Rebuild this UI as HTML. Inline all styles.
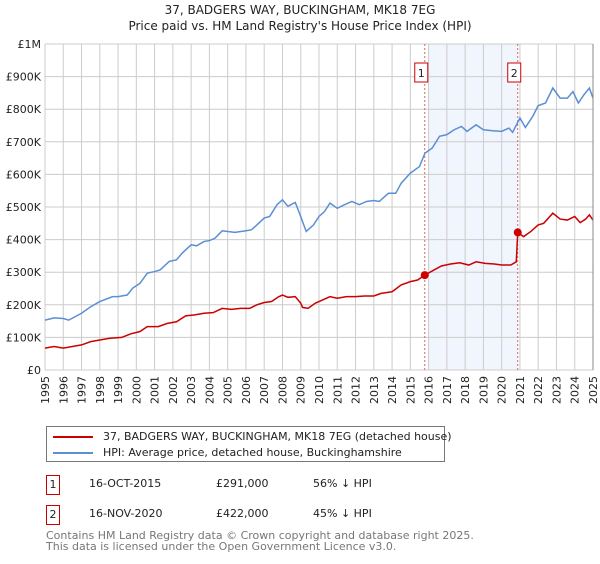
<!DOCTYPE html>
<html><head><meta charset="utf-8"><style>
body{margin:0;background:#fff;font-family:"DejaVu Sans","Liberation Sans",sans-serif;}
</style></head><body>
<svg width="600" height="560" xmlns="http://www.w3.org/2000/svg" style="font-family:'DejaVu Sans','Liberation Sans',sans-serif">
<g id="chart"></g>
</svg>
<script>
const hpiX=[1995.0,1995.5,1996.0,1996.3,1997.0,1997.5,1998.0,1998.7,1999.0,1999.5,1999.8,2000.2,2000.6,2001.0,2001.3,2001.8,2002.2,2002.5,2003.0,2003.3,2003.7,2004.0,2004.3,2004.7,2005.0,2005.4,2006.0,2006.3,2006.6,2007.0,2007.3,2007.7,2008.0,2008.3,2008.7,2009.0,2009.1,2009.3,2009.7,2010.0,2010.3,2010.6,2011.0,2011.4,2011.8,2012.2,2012.6,2013.0,2013.3,2013.8,2014.2,2014.5,2015.0,2015.5,2015.8,2016.2,2016.6,2017.0,2017.4,2017.8,2018.1,2018.6,2019.0,2019.5,2020.0,2020.4,2020.6,2021.0,2021.3,2021.7,2022.0,2022.4,2022.8,2023.2,2023.6,2023.9,2024.2,2024.5,2024.8,2025.0];
const hpiY=[153,160,158,153,174,194,210,225,225,230,251,266,297,302,307,333,338,358,384,381,394,397,404,427,425,422,427,430,445,466,471,507,522,502,514,471,455,425,445,471,486,512,496,507,517,507,517,520,517,542,542,573,604,624,665,681,717,722,737,747,732,752,737,734,732,742,729,773,744,778,811,819,865,834,834,854,819,844,865,834];
const ppX=[1995.0,1995.5,1996.0,1996.5,1997.0,1997.5,1998.0,1998.5,1999.2,1999.7,2000.2,2000.6,2001.2,2001.7,2002.2,2002.7,2003.2,2003.7,2004.2,2004.7,2005.2,2005.7,2006.2,2006.6,2007.0,2007.4,2007.8,2008.0,2008.3,2008.7,2009.0,2009.1,2009.4,2009.8,2010.2,2010.6,2011.0,2011.5,2012.0,2012.5,2013.0,2013.4,2014.0,2014.5,2015.0,2015.4,2015.79,2016.3,2016.7,2017.2,2017.7,2018.2,2018.6,2019.1,2019.6,2020.0,2020.5,2020.8,2020.88,2021.2,2021.6,2022.0,2022.3,2022.8,2023.2,2023.6,2024.0,2024.3,2024.6,2024.8,2025.0];
const ppY=[67,72,67,72,77,87,92,97,100,111,118,133,133,143,148,166,169,174,176,189,186,189,189,200,207,210,225,230,223,225,205,192,189,205,215,225,220,225,225,227,227,235,240,261,271,276,291,307,319,325,329,322,332,327,325,322,322,332,422,409,425,445,450,481,463,460,471,452,463,476,460];
const saleX=[2015.79,2020.88];
const saleY=[291,422];
const saleLabels=["1","2"];
const yTicks=[0,100,200,300,400,500,600,700,800,900,1000];
const yTickLabels=["£0","£100K","£200K","£300K","£400K","£500K","£600K","£700K","£800K","£900K","£1M"];
const years=[];for(let y=1995;y<=2025;y++)years.push(y);

const L=45,R=593,T=44,B=370;
const sx=v=>L+(v-1995)/30*(R-L);
const sy=v=>B-v/1000*(B-T);
const NS="http://www.w3.org/2000/svg";
const g=document.getElementById('chart');
function mk(tag,attrs,parent){const e=document.createElementNS(NS,tag);for(const k in attrs)e.setAttribute(k,attrs[k]);(parent||g).appendChild(e);return e;}

const shade=mk('rect',{x:sx(2016),y:T,width:sx(saleX[1])-sx(2016),height:B-T,fill:'#eef3fc',opacity:0.8});


years.forEach(y=>{const l=mk('line',{x1:sx(y),x2:sx(y),y1:T,y2:B,stroke:'#cccccc','stroke-width':1});


const t=mk('text',{x:0,y:0,transform:`translate(${sx(y)+4},${B+6}) rotate(-90)`,'text-anchor':'end','font-size':11,fill:'#222'});
t.textContent=y;

});
yTicks.forEach((v,i)=>{const l=mk('line',{x1:L,x2:R,y1:sy(v),y2:sy(v),stroke:'#cccccc','stroke-width':1});


const t=mk('text',{x:L-4,y:sy(v)+4,'text-anchor':'end','font-size':11,fill:'#222'});
t.textContent=yTickLabels[i];

});
saleX.forEach((x,i)=>{const l=mk('line',{x1:sx(x),x2:sx(x),y1:T,y2:B,stroke:'#e06060','stroke-width':1,'stroke-dasharray':'2,2'});


const r=mk('rect',{x:sx(x)-10,y:63,width:13,height:19,fill:'#fff',stroke:'#cc0000','stroke-width':1});


const t=mk('text',{x:sx(x)-3.5,y:77,'text-anchor':'middle','font-size':11,fill:'#222'});
t.textContent=saleLabels[i];

});
const hp=mk('polyline',{points:hpiX.map((x,i)=>sx(x)+','+sy(hpiY[i])).join(' '),fill:'none',stroke:'#5b8fd4','stroke-width':1.5});


const pp=mk('polyline',{points:ppX.map((x,i)=>sx(x)+','+sy(ppY[i])).join(' '),fill:'none',stroke:'#cc0000','stroke-width':1.5});


saleX.forEach((x,i)=>{const c=mk('circle',{cx:sx(x),cy:sy(saleY[i]),r:4,fill:'#cc0000'});

});
const ax=mk('line',{x1:R,x2:R,y1:T,y2:B,stroke:'#888','stroke-width':1});


</script>
<div style="position:absolute;left:0;top:0;width:600px;text-align:center;font-size:12px;line-height:16px;color:#222;padding-top:2px">37, BADGERS WAY, BUCKINGHAM, MK18 7EG<br>Price paid vs. HM Land Registry's House Price Index (HPI)</div>
<div style="position:absolute;left:46px;top:426px;width:397px;height:34px;border:1px solid #777;font-size:11px;color:#222">
 <div style="position:absolute;left:6px;top:3px;white-space:nowrap"><span style="display:inline-block;width:40px;height:2px;background:#cc0000;vertical-align:middle;margin-right:10px"></span>37, BADGERS WAY, BUCKINGHAM, MK18 7EG (detached house)</div>
 <div style="position:absolute;left:6px;top:19px;white-space:nowrap"><span style="display:inline-block;width:40px;height:2px;background:#5b8fd4;vertical-align:middle;margin-right:10px"></span>HPI: Average price, detached house, Buckinghamshire</div>
</div>
<div style="font-size:11px;color:#222">
 <div>
  <div style="position:absolute;left:46px;top:475px;width:12px;height:18px;border:1px solid #cc0000;text-align:center;line-height:18px">1</div>
  <div style="position:absolute;left:89px;top:477px">16-OCT-2015</div>
  <div style="position:absolute;left:216px;top:477px">£291,000</div>
  <div style="position:absolute;left:313px;top:477px">56% ↓ HPI</div>
 </div>
 <div>
  <div style="position:absolute;left:46px;top:505px;width:12px;height:18px;border:1px solid #cc0000;text-align:center;line-height:18px">2</div>
  <div style="position:absolute;left:89px;top:507px">16-NOV-2020</div>
  <div style="position:absolute;left:216px;top:507px">£422,000</div>
  <div style="position:absolute;left:313px;top:507px">45% ↓ HPI</div>
 </div>
</div>
<div style="position:absolute;left:46px;top:530px;font-size:11px;line-height:11px;color:#777">Contains HM Land Registry data © Crown copyright and database right 2025.<br>This data is licensed under the Open Government Licence v3.0.</div>
</body></html>
